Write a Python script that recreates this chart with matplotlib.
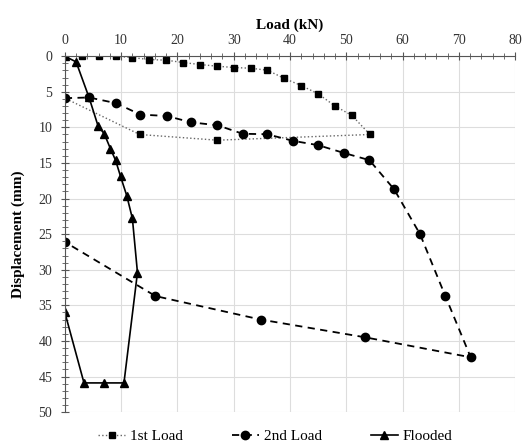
import matplotlib.pyplot as plt
from matplotlib.ticker import MultipleLocator

plt.rcParams['font.family'] = ['Liberation Serif', 'DejaVu Serif']

# 1st load (kN, mm)
load1 = [0, 3, 6, 9, 12, 15, 18, 21, 24, 27, 30, 33, 36, 39, 42, 45, 48, 51, 54.2, 27.1, 13.3, 0]
disp1 = [0, 0, 0, 0, 0.2, 0.47, 0.56, 0.89, 1.17, 1.4, 1.59, 1.69, 1.97, 3.13, 4.12, 5.29, 7.0, 8.33, 11.0, 11.8, 11.0, 5.9]

# 2nd load
load2 = [0, 4.3, 9.1, 13.4, 18.1, 22.5, 27.1, 31.6, 35.9, 40.6, 45.0, 49.6, 54.1, 58.5, 63.1, 67.6, 72.1, 53.4, 34.8, 16.1, 0]
disp2 = [5.9, 5.8, 6.6, 8.2, 8.4, 9.3, 9.7, 10.9, 10.96, 11.9, 12.5, 13.6, 14.6, 18.7, 25.0, 33.7, 42.3, 39.5, 37.0, 33.7, 26.1]

# flooded
load3 = [0, 2.0, 4.3, 5.9, 7.0, 8.1, 9.0, 9.9, 11.0, 12.0, 12.9, 10.5, 7.0, 3.4, 0]
disp3 = [0, 0.8, 5.8, 9.8, 10.9, 13.0, 14.6, 16.9, 19.6, 22.8, 30.4, 45.9, 45.9, 45.9, 36.0]

fig = plt.figure(figsize=(5.23, 4.46), dpi=100)
ax = fig.add_axes([0.124, 0.076, 0.861, 0.798])

ax.plot(load1, disp1, linestyle=':', color='#666666', lw=1.0, marker='s',
        markersize=4.5, markerfacecolor='black', markeredgecolor='black', label='1st Load')
ax.plot(load2, disp2, linestyle=(0, (4, 3)), color='black', lw=1.3, marker='o',
        markersize=6, label='2nd Load')
ax.plot(load3, disp3, linestyle='-', color='black', lw=1.2, marker='^',
        markersize=6, label='Flooded')

ax.set_xlim(0, 80)
ax.set_ylim(50, 0)
ax.xaxis.set_major_locator(MultipleLocator(10))
ax.xaxis.set_minor_locator(MultipleLocator(2))
ax.yaxis.set_major_locator(MultipleLocator(5))
ax.yaxis.set_minor_locator(MultipleLocator(1))
ax.xaxis.tick_top()
ax.xaxis.set_label_position('top')
ax.tick_params(which='both', direction='inout', colors='#555555', labelcolor='#333333', labelsize=10)
ax.tick_params(which='major', length=6)
ax.tick_params(which='minor', length=4)
ax.tick_params(axis='y', which='major', pad=6)
ax.grid(True, which='major', color='#dddddd', lw=0.8)
ax.set_axisbelow(True)

for s in ['right', 'bottom']:
    ax.spines[s].set_visible(False)
for s in ['top', 'left']:
    ax.spines[s].set_color('#555555')

ax.set_xlabel('Load (kN)', fontweight='bold', fontsize=11, labelpad=4)
ax.set_ylabel('Displacement (mm)', fontweight='bold', fontsize=11, labelpad=10)

ax.legend(loc='center', bbox_to_anchor=(0.467, -0.068), ncol=3, frameon=False,
          fontsize=11, handlelength=1.8, columnspacing=3.2, handletextpad=0.3,
          borderpad=0, borderaxespad=0)

fig.savefig('out.png', dpi=100)
